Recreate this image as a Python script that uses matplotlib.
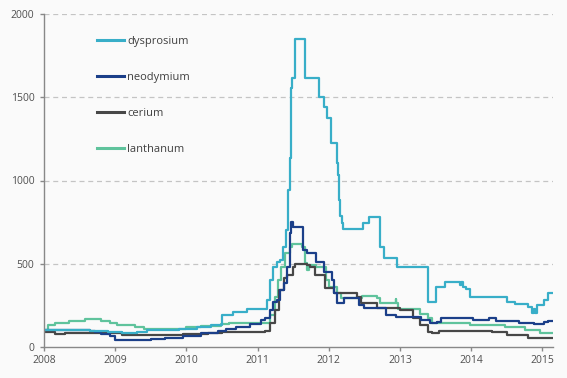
import numpy as np
import matplotlib.pyplot as plt

# rare earth prices (steps)
dy_t = [2008.00, 2008.65, 2008.90, 2009.10, 2009.30, 2009.45, 2009.70, 2009.90, 2010.15, 2010.35,
        2010.48, 2010.50, 2010.65, 2010.85, 2011.13, 2011.17, 2011.22, 2011.27, 2011.32, 2011.36,
        2011.40, 2011.43, 2011.45, 2011.47, 2011.49, 2011.52, 2011.67, 2011.86, 2011.94, 2011.97,
        2012.03, 2012.11, 2012.13, 2012.14, 2012.15, 2012.16, 2012.18, 2012.20, 2012.48, 2012.56,
        2012.72, 2012.77, 2012.96, 2013.39, 2013.50, 2013.63, 2013.84, 2013.86, 2013.88, 2013.93,
        2013.98, 2014.50, 2014.62, 2014.80, 2014.85, 2014.88, 2014.90, 2014.93, 2015.03, 2015.08,
        2015.15]
dy_v = [100, 95, 88, 84, 92, 100, 104, 108, 120, 130,
        135, 190, 210, 228, 282, 400, 480, 510, 520, 600,
        700, 940, 1135, 1555, 1615, 1850, 1615, 1500, 1440, 1378,
        1225, 1105, 1033, 943, 880, 785, 745, 708, 746, 780,
        602, 535, 482, 272, 362, 392, 375, 392, 362, 348,
        302, 272, 258, 242, 206, 230, 206, 252, 282, 326,
        326]

nd_t = [2008.00, 2008.65, 2008.72, 2008.80, 2008.93, 2009.00, 2009.10, 2009.50, 2009.70, 2009.95,
        2010.20, 2010.45, 2010.55, 2010.70, 2010.90, 2011.05, 2011.10, 2011.18, 2011.22, 2011.27,
        2011.32, 2011.37, 2011.41, 2011.45, 2011.47, 2011.50, 2011.64, 2011.70, 2011.82, 2011.94,
        2012.05, 2012.08, 2012.12, 2012.22, 2012.42, 2012.50, 2012.80, 2012.95, 2013.30, 2013.42,
        2013.52, 2013.57, 2013.85, 2014.02, 2014.25, 2014.35, 2014.67, 2014.88, 2015.02, 2015.08,
        2015.15]
nd_v = [100, 98, 90, 80, 65, 45, 42, 48, 57, 66,
        84, 96, 108, 122, 138, 160, 174, 222, 270, 282,
        342, 384, 482, 684, 752, 722, 582, 564, 512, 452,
        402, 324, 264, 294, 252, 234, 192, 182, 162, 144,
        152, 176, 172, 162, 172, 158, 146, 138, 152, 158,
        158]

ce_t = [2008.00, 2008.15, 2008.22, 2008.30, 2009.10, 2009.95, 2010.30, 2010.50, 2011.10, 2011.17,
        2011.24, 2011.30, 2011.37, 2011.42, 2011.50, 2011.53, 2011.70, 2011.74, 2011.80, 2011.95,
        2012.08, 2012.39, 2012.45, 2012.68, 2013.00, 2013.18, 2013.28, 2013.40, 2013.45, 2013.55,
        2014.30, 2014.50, 2014.80, 2015.15]
ce_v = [88, 80, 76, 82, 72, 76, 82, 88, 96, 144,
        222, 342, 414, 432, 482, 498, 492, 482, 432, 352,
        326, 302, 262, 232, 222, 172, 132, 92, 82, 96,
        88, 74, 56, 56]

la_t = [2008.00, 2008.06, 2008.15, 2008.35, 2008.58, 2008.80, 2008.93, 2009.03, 2009.15, 2009.28,
        2009.40, 2009.77, 2010.00, 2010.20, 2010.48, 2010.60, 2011.10, 2011.18, 2011.24, 2011.29,
        2011.33, 2011.38, 2011.45, 2011.48, 2011.62, 2011.67, 2011.70, 2011.72, 2011.82, 2011.96,
        2012.00, 2012.11, 2012.17, 2012.47, 2012.68, 2012.72, 2012.94, 2012.95, 2012.97, 2013.28,
        2013.39, 2013.45, 2013.50, 2013.98, 2014.48, 2014.76, 2014.97, 2015.15]
la_v = [102, 132, 146, 158, 166, 158, 146, 130, 132, 118,
        108, 110, 120, 128, 136, 142, 142, 192, 302, 402,
        482, 564, 602, 616, 602, 502, 462, 492, 482, 402,
        362, 322, 292, 306, 292, 262, 290, 262, 226, 198,
        172, 146, 142, 132, 122, 102, 86, 86]

names = ['dysprosium', 'neodymium', 'cerium', 'lanthanum']
colors = ['#38aec8', '#1b3f89', '#474747', '#5fc39c']
years = [2008, 2009, 2010, 2011, 2012, 2013, 2014, 2015]

bg = '#fafafa'
fig = plt.figure(figsize=(5.67, 3.78), dpi=100, facecolor=bg)
ax = fig.add_axes([44 / 567, 31 / 378, 509 / 567, 333 / 378], facecolor=bg)

series = [(dy_t, dy_v), (nd_t, nd_v), (ce_t, ce_v), (la_t, la_v)]
# draw lanthanum first so the others sit on top
for i in [3, 2, 1, 0]:
    t, v = series[i]
    ax.plot(t, v, drawstyle='steps-post', color=colors[i], lw=1.6, label=names[i])

ax.set_xlim(2008, 2015.15)
ax.set_ylim(0, 2000)
ax.set_yticks([0, 500, 1000, 1500, 2000])
ax.set_xticks(years)
ax.set_xticklabels([str(y) for y in years])

for y in [500, 1000, 1500, 2000]:
    ax.axhline(y, color='#c4c4c4', lw=0.9, ls=(0, (4, 3)), zorder=0)

for s in ['top', 'right']:
    ax.spines[s].set_visible(False)
for s in ['left', 'bottom']:
    ax.spines[s].set_color('#888888')
    ax.spines[s].set_linewidth(1.0)

ax.tick_params(axis='both', colors='#888888', length=3, width=1.0,
               labelcolor='#505050', labelsize=7.5)
ax.tick_params(axis='y', pad=4)
ax.tick_params(axis='x', pad=3)
for lab in ax.get_xticklabels() + ax.get_yticklabels():
    lab.set_family('Open Sans')

handles, labels = ax.get_legend_handles_labels()
order = [labels.index(n) for n in names]
leg = ax.legend([handles[k] for k in order], [labels[k] for k in order],
                loc='upper left', bbox_to_anchor=(0.085, 0.965), frameon=False,
                labelspacing=2.25, handlelength=2.4, handletextpad=0.3,
                prop={'family': 'Open Sans', 'size': 8})
for txt in leg.get_texts():
    txt.set_color('#404040')
for h in leg.get_lines():
    h.set_linewidth(2.2)

fig.savefig('out.png', dpi=100, facecolor=bg)
